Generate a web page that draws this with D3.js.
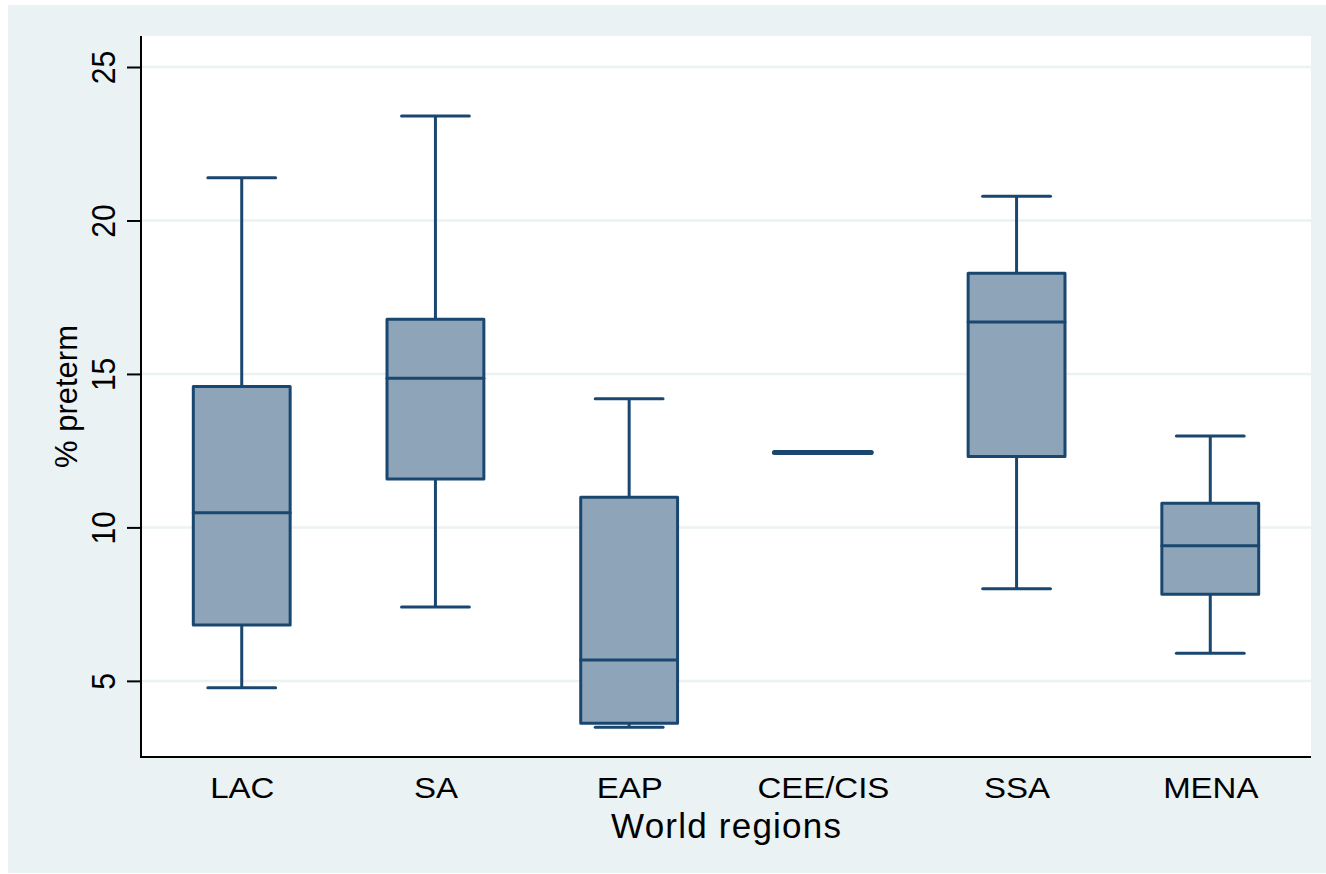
<!DOCTYPE html>
<html lang="en">
<head>
    <meta charset="UTF-8">
    <style>
        body {
            margin: 0;
            padding: 0;
            background-color: #fff;
            overflow: hidden;
        }

        #chart {
            display: block;
        }

        text {
            font-family: "Liberation Sans", Arial, sans-serif;
            fill: #000;
        }
    </style>
</head>
<body>
    <svg id="chart"></svg>

    <script src="https://d3js.org/d3.v7.min.js"></script>
    <script>
        const width = 1326;
        const height = 874;

        // regions on the x axis
        const regions = ["LAC", "SA", "EAP", "CEE/CIS", "SSA", "MENA"];

        // box plot statistics, one value per region
        const lowerWhisker = [4.78, 7.41, 3.49, 12.44, 8.0, 5.9];
        const q1 = [6.82, 11.58, 3.62, 12.44, 12.31, 7.82];
        const median = [10.48, 14.86, 5.68, 12.44, 16.69, 9.4];
        const q3 = [14.59, 16.78, 10.98, 12.44, 18.28, 10.79];
        const upperWhisker = [21.39, 23.4, 14.19, 12.44, 20.79, 12.98];

        const yTicks = [5, 10, 15, 20, 25];

        const boxes = regions.map((r, i) => ({
            region: r,
            lo: lowerWhisker[i],
            q1: q1[i],
            med: median[i],
            q3: q3[i],
            hi: upperWhisker[i]
        }));

        const plot = { left: 141, top: 36, right: 1311, bottom: 757 };
        const stretch = 1.1; // text in the original is a bit wide

        const svg = d3.select("#chart")
            .attr("width", width)
            .attr("height", height);

        // outer graph region
        svg.append("rect")
            .attr("x", 8)
            .attr("y", 5)
            .attr("width", width - 8)
            .attr("height", height - 6)
            .attr("fill", "#eaf2f3");

        // plot region
        svg.append("rect")
            .attr("x", plot.left)
            .attr("y", plot.top)
            .attr("width", plot.right - plot.left)
            .attr("height", plot.bottom - plot.top)
            .attr("fill", "#fff");

        const x = d3.scalePoint()
            .domain(regions)
            .range([plot.left, plot.right])
            .padding(0.52);

        const y = d3.scaleLinear()
            .domain([2.52, 26.01])
            .range([plot.bottom, plot.top]);

        const step = x.step();
        const boxW = step * 0.5;
        const capW = step * 0.35;

        // gridlines
        svg.append("g")
            .selectAll("line")
            .data(yTicks)
            .enter().append("line")
            .attr("x1", plot.left)
            .attr("x2", plot.right)
            .attr("y1", d => y(d))
            .attr("y2", d => y(d))
            .attr("stroke", "#eaf2f3")
            .attr("stroke-width", 2.5);

        // y axis
        const yAxis = svg.append("g")
            .attr("transform", `translate(${plot.left},0)`)
            .call(d3.axisLeft(y).tickValues(yTicks).tickSize(14).tickPadding(12));
        yAxis.select(".domain").remove();
        yAxis.selectAll(".tick line").attr("stroke", "#000").attr("stroke-width", 2);
        yAxis.selectAll(".tick text")
            .attr("font-size", 30)
            .attr("font-family", "Liberation Sans, Arial, sans-serif")
            .attr("transform", `scale(${stretch},1) rotate(-90)`)
            .attr("x", 0)
            .attr("y", -24)
            .attr("dy", 0)
            .attr("text-anchor", "middle");

        // x axis
        const xAxis = svg.append("g")
            .attr("transform", `translate(0,${plot.bottom})`)
            .call(d3.axisBottom(x).tickSize(0).tickPadding(0));
        xAxis.select(".domain").remove();
        xAxis.selectAll(".tick text")
            .attr("font-size", 30)
            .attr("font-family", "Liberation Sans, Arial, sans-serif")
            .attr("transform", `scale(${stretch},1)`)
            .attr("y", 41)
            .attr("dy", 0);

        // axis lines
        svg.append("line")
            .attr("x1", plot.left).attr("x2", plot.left)
            .attr("y1", plot.top).attr("y2", plot.bottom + 1)
            .attr("stroke", "#000").attr("stroke-width", 2);
        svg.append("line")
            .attr("x1", plot.left - 1).attr("x2", plot.right)
            .attr("y1", plot.bottom).attr("y2", plot.bottom)
            .attr("stroke", "#000").attr("stroke-width", 2);

        // boxes
        const stroke = "#1a476f";
        const g = svg.append("g")
            .selectAll("g")
            .data(boxes)
            .enter().append("g")
            .attr("transform", d => `translate(${x(d.region)},0)`);

        // whiskers
        g.append("line")
            .attr("x1", 0).attr("x2", 0)
            .attr("y1", d => y(d.hi)).attr("y2", d => y(d.q3))
            .attr("stroke", stroke).attr("stroke-width", 3);
        g.append("line")
            .attr("x1", 0).attr("x2", 0)
            .attr("y1", d => y(d.q1)).attr("y2", d => y(d.lo))
            .attr("stroke", stroke).attr("stroke-width", 3);
        g.append("line")
            .attr("x1", -capW / 2).attr("x2", capW / 2)
            .attr("y1", d => y(d.hi)).attr("y2", d => y(d.hi))
            .attr("stroke", stroke).attr("stroke-width", 3)
            .attr("stroke-linecap", "round")
            .attr("display", d => d.hi === d.q3 ? "none" : null);
        g.append("line")
            .attr("x1", -capW / 2).attr("x2", capW / 2)
            .attr("y1", d => y(d.lo)).attr("y2", d => y(d.lo))
            .attr("stroke", stroke).attr("stroke-width", 3)
            .attr("stroke-linecap", "round")
            .attr("display", d => d.lo === d.q1 ? "none" : null);

        // box body
        g.append("rect")
            .attr("x", -boxW / 2)
            .attr("width", boxW)
            .attr("y", d => y(d.q3))
            .attr("height", d => y(d.q1) - y(d.q3))
            .attr("fill", "#8ea5b9")
            .attr("stroke", stroke)
            .attr("stroke-width", d => d.q1 === d.q3 ? 4 : 3)
            .attr("stroke-linejoin", "round");

        // median
        g.append("line")
            .attr("x1", -boxW / 2).attr("x2", boxW / 2)
            .attr("y1", d => y(d.med)).attr("y2", d => y(d.med))
            .attr("stroke", stroke)
            .attr("stroke-width", d => d.q1 === d.q3 ? 5 : 3)
            .attr("stroke-linecap", "round");

        // axis titles
        svg.append("text")
            .attr("x", (plot.left + plot.right) / 2)
            .attr("y", 838)
            .attr("text-anchor", "middle")
            .attr("font-size", 35)
            .attr("textLength", 230)
            .text("World regions");

        svg.append("text")
            .attr("transform", `translate(77,${(plot.top + plot.bottom) / 2}) rotate(-90)`)
            .attr("text-anchor", "middle")
            .attr("font-size", 31)
            .text("% preterm");
    </script>
</body>
</html>
